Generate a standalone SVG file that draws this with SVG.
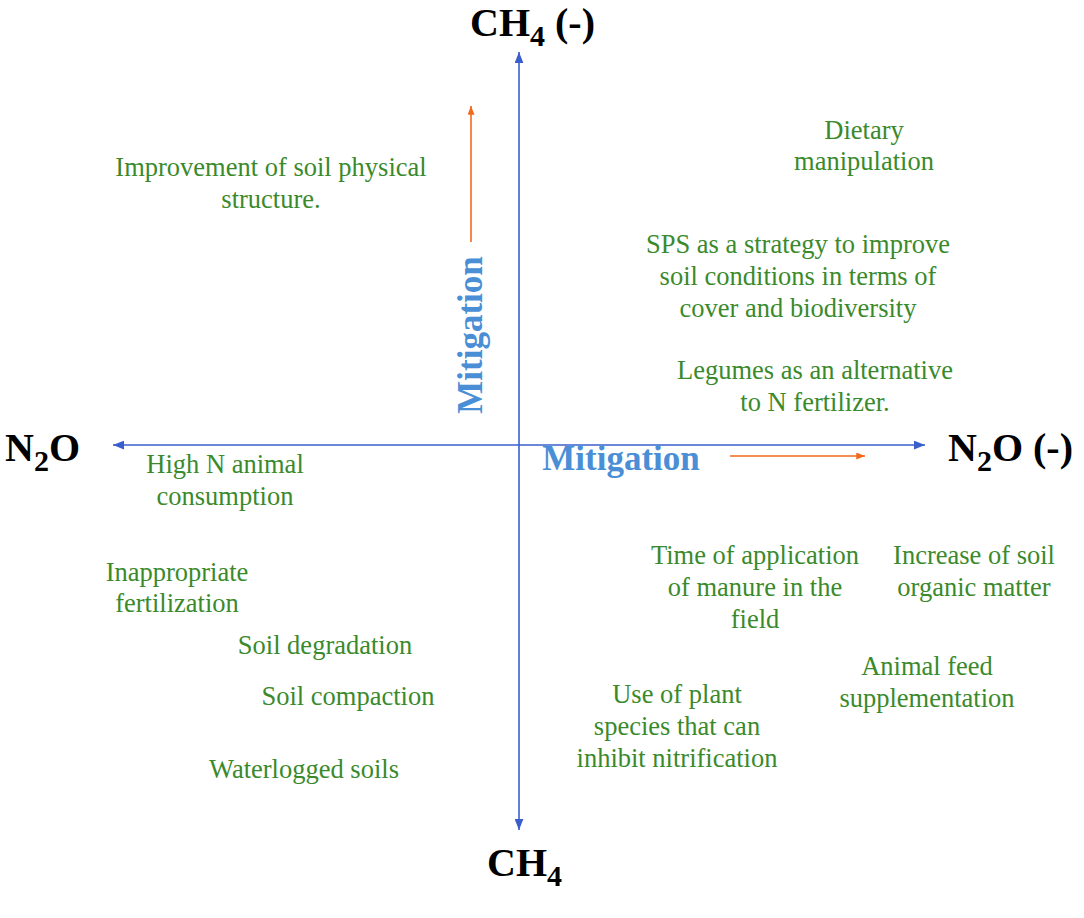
<svg xmlns="http://www.w3.org/2000/svg" width="1084" height="918" viewBox="0 0 1084 918">
<style>
.g{font-family:"Liberation Serif","Times New Roman",serif;font-size:26.5px;fill:#3a8a2c;text-anchor:middle}
.lab{font-family:"Liberation Serif","Times New Roman",serif;font-size:40px;font-weight:bold;fill:#000}
.sub{font-size:30px}
.mit{font-family:"Liberation Serif","Times New Roman",serif;font-size:35px;font-weight:bold;fill:#4a8fd6;text-anchor:middle}
.ax{stroke:#3a5fcd;stroke-width:1.6;fill:none}
.or{stroke:#f26b1d;stroke-width:1.6;fill:none}
</style>
<defs>
<marker id="ab" viewBox="0 0 10 8" refX="10" refY="4" markerWidth="11" markerHeight="9" markerUnits="userSpaceOnUse" orient="auto-start-reverse"><path d="M0,0 L10,4 L0,8 Z" fill="#3a5fcd"/></marker>
<marker id="ao" viewBox="0 0 10 8" refX="10" refY="4" markerWidth="9" markerHeight="7" markerUnits="userSpaceOnUse" orient="auto"><path d="M0,0 L10,4 L0,8 Z" fill="#f26b1d"/></marker>
</defs>
<rect width="1084" height="918" fill="#fff"/>
<g id="connectors">
<line class="ax" x1="519" y1="830" x2="519" y2="52" marker-start="url(#ab)" marker-end="url(#ab)"/>
<line class="ax" x1="925" y1="445" x2="113" y2="445" marker-start="url(#ab)" marker-end="url(#ab)"/>
<line class="or" x1="471" y1="242" x2="471" y2="106" marker-end="url(#ao)"/>
<line class="or" x1="730" y1="456" x2="865" y2="456" marker-end="url(#ao)"/>
</g>
<g id="axis-labels">
<text id="ch4-neg" class="lab" x="470" y="36">CH<tspan class="sub" dy="10">4</tspan><tspan dy="-10"> (-)</tspan></text>
<text id="n2o" class="lab" x="5" y="461">N<tspan class="sub" dy="10">2</tspan><tspan dy="-10">O</tspan></text>
<text id="n2o-neg" class="lab" x="948" y="461">N<tspan class="sub" dy="10">2</tspan><tspan dy="-10">O (-)</tspan></text>
<text id="ch4" class="lab" x="487" y="876">CH<tspan class="sub" dy="10">4</tspan></text>
</g>
<g id="mitigation-v"><text class="mit" transform="translate(482,335) rotate(-90)" x="0" y="0">Mitigation</text></g>
<g id="mitigation-h"><text class="mit" x="621" y="470">Mitigation</text></g>
<g id="n-improvement"><text class="g" x="271" y="176">Improvement of soil physical</text><text class="g" x="271" y="208">structure.</text></g>
<g id="n-dietary"><text class="g" x="864" y="139">Dietary</text><text class="g" x="864" y="170">manipulation</text></g>
<g id="n-sps"><text class="g" x="798" y="253">SPS as a strategy to improve</text><text class="g" x="798" y="285">soil conditions in terms of</text><text class="g" x="798" y="317">cover and biodiversity</text></g>
<g id="n-legumes"><text class="g" x="815" y="379">Legumes as an alternative</text><text class="g" x="815" y="411">to N fertilizer.</text></g>
<g id="n-highn"><text class="g" x="225" y="473">High N animal</text><text class="g" x="225" y="505">consumption</text></g>
<g id="n-inappropriate"><text class="g" x="177" y="581">Inappropriate</text><text class="g" x="177" y="612">fertilization</text></g>
<g id="n-degradation"><text class="g" x="325" y="654">Soil degradation</text></g>
<g id="n-compaction"><text class="g" x="348" y="705">Soil compaction</text></g>
<g id="n-waterlogged"><text class="g" x="304" y="778">Waterlogged soils</text></g>
<g id="n-time"><text class="g" x="755" y="564">Time of application</text><text class="g" x="755" y="596">of manure in the</text><text class="g" x="755" y="628">field</text></g>
<g id="n-increase"><text class="g" x="974" y="564">Increase of soil</text><text class="g" x="974" y="596">organic matter</text></g>
<g id="n-feed"><text class="g" x="927" y="675">Animal feed</text><text class="g" x="927" y="707">supplementation</text></g>
<g id="n-plant"><text class="g" x="677" y="703">Use of plant</text><text class="g" x="677" y="735">species that can</text><text class="g" x="677" y="767">inhibit nitrification</text></g>
</svg>
